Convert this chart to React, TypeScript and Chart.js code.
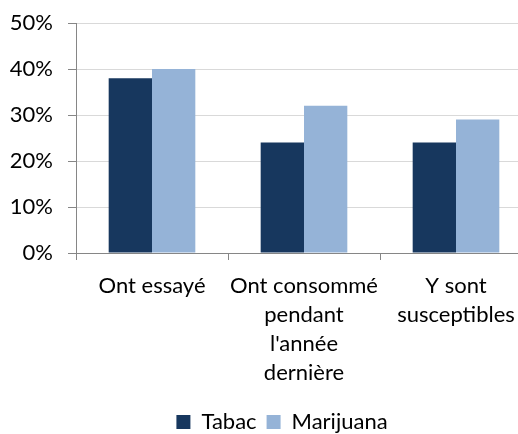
import React, { useEffect, useRef } from 'react';
import { Chart, registerables } from 'chart.js';

Chart.register(...registerables);

// Category labels (multi-line) and values in percent
const categories: string[][] = [
  ['Ont essayé'],
  ['Ont consommé', 'pendant', "l'année", 'dernière'],
  ['Y sont', 'susceptibles'],
];
const tabac = [38, 24, 24];
const marijuana = [40, 32, 29];
const yMin = 0;
const yMax = 50;
const yStep = 10;

const FONT = { family: 'Lato, "Open Sans", sans-serif', size: 22, lineHeight: 1.32 };
const AXIS_GREY = '#868686';
const GRID_GREY = '#d9d9d9';

// The plot runs past the right edge of the visible frame; the legend stays
// centred on the full figure width rather than on the padded layout box.
const legendShift = {
  id: 'legendShift',
  afterLayout(chart: any) {
    const l = chart.legend;
    if (!l) return;
    l.left += 16;
    l.right += 16;
  },
};

export default function App() {
  const ref = useRef<HTMLCanvasElement>(null);

  useEffect(() => {
    const canvas = ref.current;
    if (!canvas) return;
    const chart = new Chart(canvas, {
      type: 'bar',
      data: {
        labels: categories,
        datasets: [
          {
            label: 'Tabac',
            data: tabac,
            backgroundColor: '#17375E',
            categoryPercentage: 0.57,
            barPercentage: 1,
          },
          {
            label: 'Marijuana',
            data: marijuana,
            backgroundColor: '#95B3D7',
            categoryPercentage: 0.57,
            barPercentage: 1,
          },
        ],
      },
      options: {
        responsive: false,
        animation: false,
        devicePixelRatio: 1,
        layout: { padding: { top: 23, right: 32, left: 0, bottom: 0 } },
        plugins: {
          legend: {
            position: 'bottom',
            labels: {
              boxWidth: 14,
              boxHeight: 14,
              padding: 10,
              color: '#000',
              font: FONT,
            },
          },
          tooltip: { enabled: false },
        },
        scales: {
          x: {
            grid: {
              offset: true,
              drawOnChartArea: false,
              drawTicks: true,
              tickLength: 7,
              tickColor: AXIS_GREY,
            },
            border: { color: AXIS_GREY },
            ticks: {
              color: '#000',
              font: FONT,
              padding: 11,
              maxRotation: 0,
              autoSkip: false,
            },
            afterFit: (s: any) => {
              s.height = 148;
            },
          },
          y: {
            min: yMin,
            max: yMax,
            ticks: {
              stepSize: yStep,
              color: '#000',
              font: FONT,
              padding: 15,
              callback: (v: any) => v + '%',
            },
            grid: { color: GRID_GREY, tickColor: AXIS_GREY, tickLength: 8 },
            border: { color: AXIS_GREY },
            afterFit: (s: any) => {
              s.width = 76;
              s.paddingTop = 0;
              s.paddingBottom = 0;
            },
          },
        },
      },
      plugins: [legendShift],
    });
    return () => chart.destroy();
  }, []);

  return (
    <div
      style={{
        position: 'fixed',
        left: 0,
        top: 0,
        width: 518,
        height: 434,
        overflow: 'hidden',
        background: '#fff',
      }}
    >
      <canvas ref={ref} width={564} height={443} style={{ display: 'block' }} />
    </div>
  );
}
